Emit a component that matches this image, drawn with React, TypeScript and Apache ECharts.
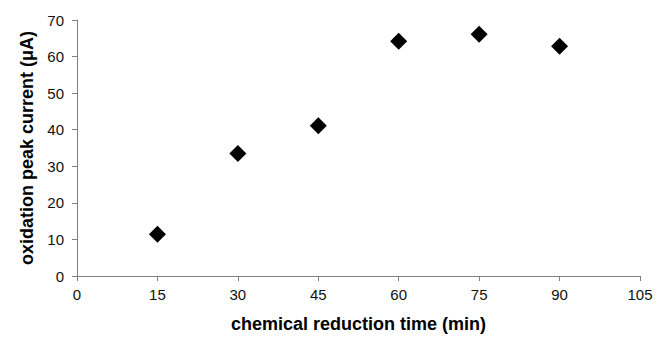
import React, { useEffect, useRef } from "react";
import * as echarts from "echarts";

const times = [15, 30, 45, 60, 75, 90];
const currents = [11.4, 33.5, 41.1, 64.2, 66.1, 62.8];
const xTitle = "chemical reduction time (min)";
const yTitle = "oxidation peak current (μA)";

export default function App() {
  const ref = useRef<HTMLDivElement>(null);
  useEffect(() => {
    const chart = echarts.init(ref.current!, null, { renderer: "svg" });
    const font = "Liberation Sans, Arial, sans-serif";
    chart.setOption({
      animation: false,
      backgroundColor: "#ffffff",
      grid: { left: 77, right: 16, top: 20, bottom: 58, containLabel: false },
      xAxis: {
        type: "value",
        min: 0,
        max: 105,
        interval: 15,
        name: xTitle,
        nameLocation: "middle",
        nameGap: 39,
        nameTextStyle: { fontFamily: font, fontWeight: "bold", fontSize: 18, color: "#000" },
        axisLine: { show: true, lineStyle: { color: "#808080", width: 1 } },
        axisTick: { show: true, inside: false, length: 5, lineStyle: { color: "#808080" } },
        axisLabel: { fontFamily: font, fontSize: 15, color: "#111", margin: 11 },
        splitLine: { show: false },
      },
      yAxis: {
        type: "value",
        min: 0,
        max: 70,
        interval: 10,
        name: yTitle,
        nameLocation: "middle",
        nameGap: 41,
        nameTextStyle: { fontFamily: font, fontWeight: "bold", fontSize: 18, color: "#000" },
        axisLine: { show: true, lineStyle: { color: "#808080", width: 1 } },
        axisTick: { show: true, inside: false, length: 5, lineStyle: { color: "#808080" } },
        axisLabel: { fontFamily: font, fontSize: 15, color: "#111", margin: 13 },
        splitLine: { show: false },
      },
      series: [
        {
          type: "scatter",
          data: times.map((t, i) => [t, currents[i]]),
          symbol: "diamond",
          symbolSize: 17,
          itemStyle: { color: "#000000", opacity: 1 },
        },
      ],
    });
    return () => chart.dispose();
  }, []);
  return <div ref={ref} style={{ width: 656, height: 338, position: "absolute", left: 0, top: 0 }} />;
}
